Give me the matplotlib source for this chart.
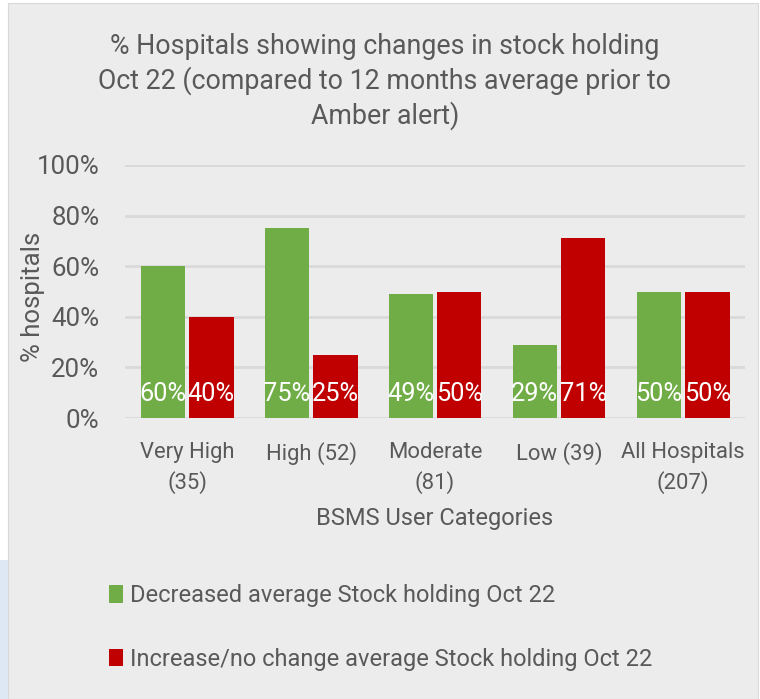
import matplotlib
matplotlib.use("Agg")
import matplotlib.pyplot as plt
from matplotlib.patches import Rectangle
from matplotlib import font_manager
import numpy as np

categories = ["Very High\n(35)", "High (52)", "Moderate\n(81)", "Low (39)", "All Hospitals\n(207)"]
decreased = [60, 75, 49, 29, 50]
increased = [40, 25, 50, 71, 50]
series_names = ["Decreased average Stock holding Oct 22",
                "Increase/no change average Stock holding Oct 22"]
yticks = [0, 20, 40, 60, 80, 100]

avail = {f.name for f in font_manager.fontManager.ttflist}
fam = [f for f in ["Liberation Sans Narrow", "Roboto", "DejaVu Sans"] if f in avail]
plt.rcParams['font.family'] = fam

TXT = "#595959"
GREEN = "#70ad47"
RED = "#c00000"
BG = "#ececec"

W, H = 760, 699
fig = plt.figure(figsize=(W / 100, H / 100), dpi=100, facecolor="white")
# panel background
fig.patches.append(Rectangle((8 / W, 0), 750 / W, 1 - 3 / H, transform=fig.transFigure,
                             facecolor=BG, edgecolor="#d9d9d9", lw=0.8, zorder=-10))
fig.patches.append(Rectangle((0, 0), 8 / W, (H - 560) / H, transform=fig.transFigure,
                             facecolor="#dde8f4", edgecolor="none", zorder=-10))

ax = fig.add_axes([125 / W, 1 - 418 / H, 620 / W, 253 / H])
ax.set_facecolor(BG)
ax.patch.set_alpha(0)

x = np.arange(len(categories))
bw = 0.36
off = 0.195
b1 = ax.bar(x - off, decreased, bw, color=GREEN, label=series_names[0], zorder=3)
b2 = ax.bar(x + off, increased, bw, color=RED, label=series_names[1], zorder=3)

for bars, vals in ((b1, decreased), (b2, increased)):
    for r, v in zip(bars, vals):
        ax.text(r.get_x() + r.get_width() / 2, 9.5, f"{v}%", ha="center", va="center",
                color="white", fontsize=18.3, zorder=4)

ax.set_xlim(-0.5, len(categories) - 0.5)
ax.set_ylim(0, 100)
ax.set_yticks(yticks)
ax.set_yticklabels([f"{t}%" for t in yticks])
ax.set_xticks(x)
ax.set_xticklabels(categories, linespacing=1.45)
ax.yaxis.grid(True, color="#d9d9d9", lw=2, zorder=0)
ax.set_axisbelow(True)
for s in ax.spines.values():
    s.set_visible(False)
ax.tick_params(axis="both", length=0, colors=TXT)
ax.tick_params(axis="y", labelsize=18.6, pad=18.5)
ax.tick_params(axis="x", labelsize=15.8, pad=17.5)

fig.text(33 / W, 1 - 297 / H, "% hospitals", rotation=90, ha="center", va="center",
         color=TXT, fontsize=18.5)
fig.text(435 / W, 1 - 518 / H, "BSMS User Categories", ha="center", va="center",
         color=TXT, fontsize=17)

title_lines = ["% Hospitals showing changes in stock holding",
               "Oct 22 (compared to 12 months average prior to",
               "Amber alert)"]
for i, line in enumerate(title_lines):
    fig.text(385 / W, 1 - (46 + 35 * i) / H, line, ha="center", va="center",
             color=TXT, fontsize=19.3)

leg = fig.legend(handles=[b1, b2], loc="upper left", bbox_to_anchor=(88 / W, 1 - 563 / H),
                 frameon=False, fontsize=17, labelcolor=TXT, handlelength=0.6,
                 handleheight=0.75, handletextpad=0.3, labelspacing=1.72)

fig.savefig("out.png", dpi=100, facecolor=fig.get_facecolor())
